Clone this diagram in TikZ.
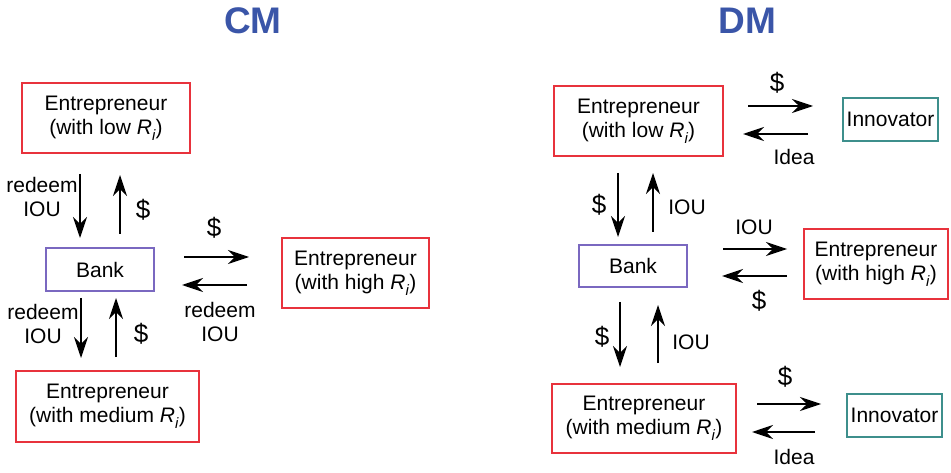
\documentclass[tikz,border=0pt]{standalone}
\usepackage{fontspec}
\setmainfont{Liberation Sans}
\usetikzlibrary{arrows.meta}
\definecolor{boxred}{HTML}{E8323C}
\definecolor{bankpurple}{HTML}{7A68C0}
\definecolor{innteal}{HTML}{3D8F8C}
\definecolor{titleblue}{HTML}{3A55A8}
\newcommand{\Rsub}{\textit{R}\raisebox{-0.55ex}{\fontsize{15}{15}\selectfont\textit{i}}}
\tikzset{
  every node/.style={inner sep=0pt, outer sep=0pt},
  txt/.style={font=\fontsize{21}{24}\selectfont, align=center},
  money/.style={font=\fontsize{26}{28}\selectfont},
  heading/.style={font=\fontsize{37}{40}\selectfont\bfseries, text=titleblue},
  entbox/.style={txt, draw=boxred, line width=1.3pt, rectangle},
  bankbox/.style={txt, draw=bankpurple, line width=1.3pt, rectangle},
  innbox/.style={txt, draw=innteal, line width=1.3pt, rectangle},
  flow/.style={line width=1.2pt, -{Stealth[length=21pt,width=14pt,inset=7pt]}},
}
\begin{document}
\begin{tikzpicture}[x=1pt,y=-1pt]
\useasboundingbox (0,0) rectangle (951,473);

% ---------- CM ----------
\node[heading] (cmtitle) at (253,20.5) {CM};
\node[entbox, minimum width=168, minimum height=70] (lowL) at (106,118) {Entrepreneur\\(with low \Rsub)};
\node[bankbox, minimum width=108, minimum height=43] (bankL) at (100,269.5) {Bank};
\node[entbox, minimum width=147, minimum height=70] (highL) at (355.5,273) {Entrepreneur\\(with high \Rsub)};
\node[entbox, minimum width=183, minimum height=71] (medL) at (107.5,406.5) {Entrepreneur\\(with medium \Rsub)};

\draw[flow, shorten <=21, shorten >=10] ([xshift=-26]lowL.south) -- ([xshift=-20]bankL.north);
\draw[flow, shorten <=14, shorten >=22] ([xshift=20]bankL.north) -- ([xshift=14]lowL.south);
\node[txt] (lA) at (42,197) {redeem\\IOU};
\node[money] (lB) at (143,210) {\$};

\draw[flow, shorten <=30, shorten >=33] ([yshift=12.5]bankL.east) -- ([yshift=16]highL.west);
\draw[flow, shorten <=35, shorten >=28] ([yshift=-12]highL.west) -- ([yshift=-15.5]bankL.east);
\node[money] (lC) at (214,228) {\$};
\node[txt] (lD) at (220,322) {redeem\\IOU};

\draw[flow, shorten <=7, shorten >=13] ([xshift=-19]bankL.south) -- ([xshift=-26.5]medL.north);
\draw[flow, shorten <=14, shorten >=7] ([xshift=8.5]medL.north) -- ([xshift=16]bankL.south);
\node[txt] (lE) at (43,324) {redeem\\IOU};
\node[money] (lF) at (141,334) {\$};

% ---------- DM ----------
\node[heading] (dmtitle) at (747.5,20.5) {DM};
\node[entbox, minimum width=169, minimum height=70] (lowR) at (638.5,121) {Entrepreneur\\(with low \Rsub)};
\node[innbox, minimum width=95, minimum height=43] (innA) at (890.5,119.5) {Innovator};
\node[bankbox, minimum width=108, minimum height=42] (bankR) at (633,266) {Bank};
\node[entbox, minimum width=144, minimum height=70] (highR) at (876,264) {Entrepreneur\\(with high \Rsub)};
\node[entbox, minimum width=184, minimum height=69] (medR) at (644,418.5) {Entrepreneur\\(with medium \Rsub)};
\node[innbox, minimum width=95, minimum height=43] (innB) at (894.5,415.5) {Innovator};

\draw[flow, shorten <=25, shorten >=30] ([yshift=15]lowR.east) -- ([yshift=13.5]innA.west);
\draw[flow, shorten <=35, shorten >=20] ([yshift=-14.5]innA.west) -- ([yshift=-13]lowR.east);
\node[money] (rA) at (777,83) {\$};
\node[txt] (rB) at (794,157) {Idea};

\draw[flow, shorten <=17, shorten >=8] ([xshift=-20.5]lowR.south) -- ([xshift=-15]bankR.north);
\draw[flow, shorten <=13, shorten >=17] ([xshift=20]bankR.north) -- ([xshift=14.5]lowR.south);
\node[money] (rC) at (599,205) {\$};
\node[txt] (rD) at (687,207) {IOU};

\draw[flow, shorten <=36, shorten >=17] ([yshift=17]bankR.east) -- ([yshift=15]highR.west);
\draw[flow, shorten <=17, shorten >=35] ([yshift=-12]highR.west) -- ([yshift=-10]bankR.east);
\node[txt] (rE) at (754,227) {IOU};
\node[money] (rF) at (759,301) {\$};

\draw[flow, shorten <=15, shorten >=17] ([xshift=-13]bankR.south) -- ([xshift=-24]medR.north);
\draw[flow, shorten <=21, shorten >=18] ([xshift=14]medR.north) -- ([xshift=25]bankR.south);
\node[money] (rG) at (602,337) {\$};
\node[txt] (rH) at (691,342) {IOU};

\draw[flow, shorten <=21, shorten >=26] ([yshift=14.5]medR.east) -- ([yshift=11.5]innB.west);
\draw[flow, shorten <=32, shorten >=16] ([yshift=-16.5]innB.west) -- ([yshift=-13.5]medR.east);
\node[money] (rI) at (785,377) {\$};
\node[txt] (rJ) at (794,457) {Idea};
\end{tikzpicture}
\end{document}
